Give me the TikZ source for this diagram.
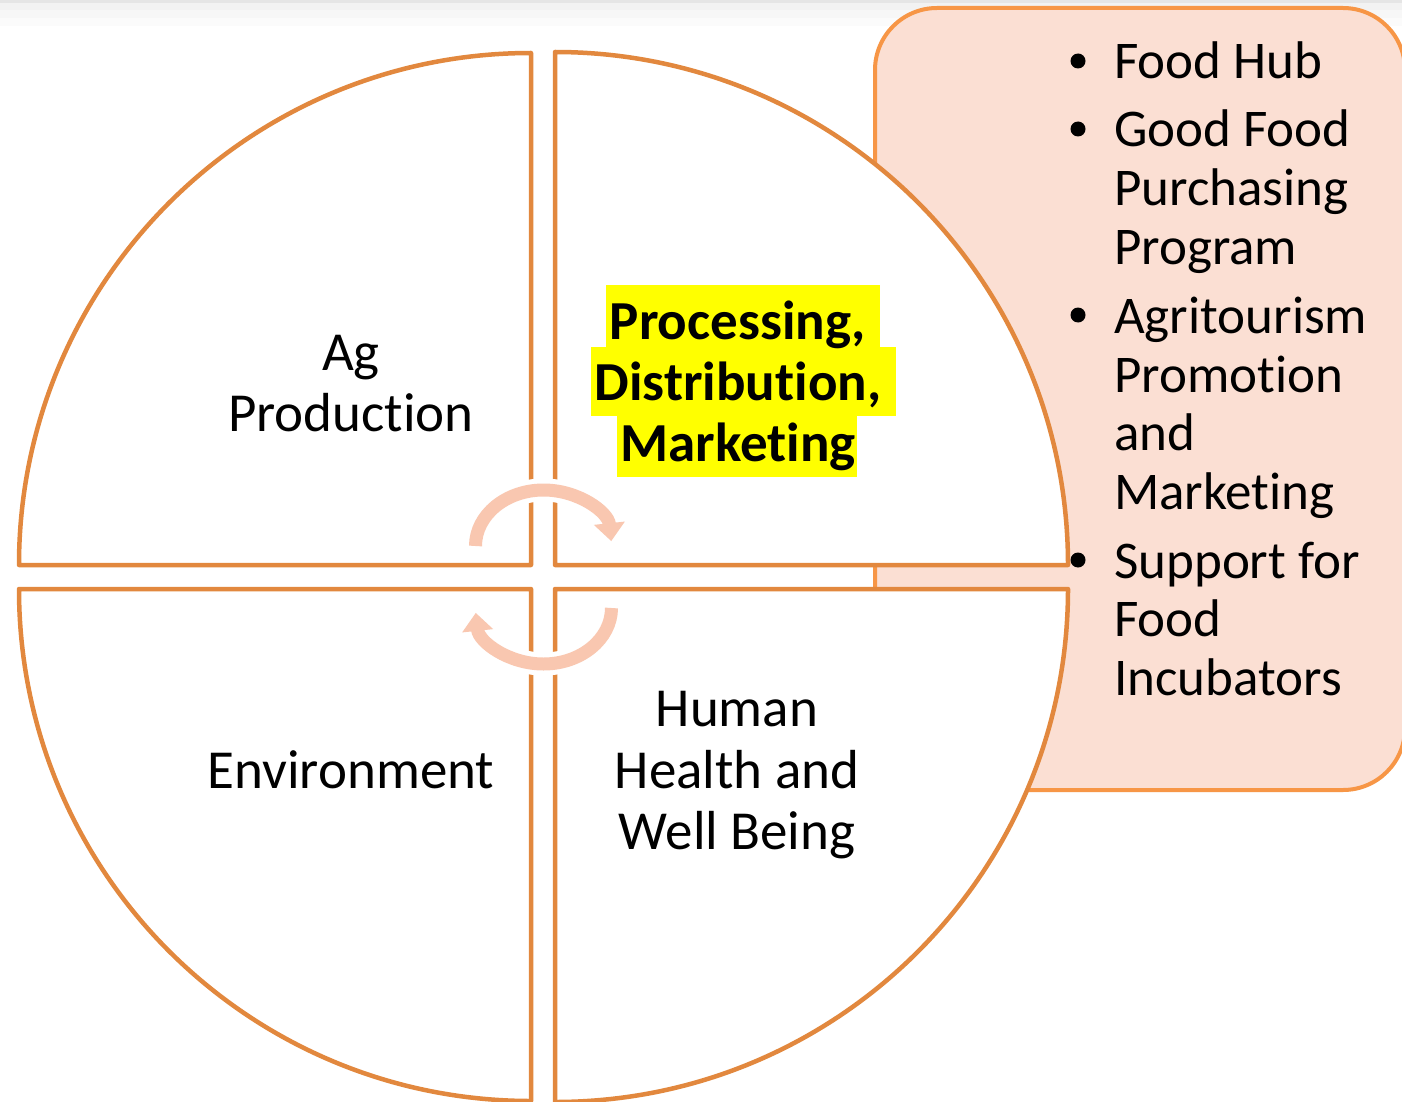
\documentclass[tikz,border=0pt]{standalone}
\usepackage{fontspec}
\setmainfont{Carlito}[Ligatures={NoCommon,NoContextual},Contextuals=NoAlternate]
\usetikzlibrary{arrows.meta}
\newcommand{\nolig}{\kern0pt }
\definecolor{quad}{RGB}{226,136,62}
\definecolor{boxline}{RGB}{247,150,70}
\definecolor{boxfill}{RGB}{251,223,211}
\definecolor{arrowc}{RGB}{249,199,176}
\definecolor{hl}{RGB}{255,255,0}
\tikzset{
  quadrant/.style={draw=quad, fill=white, line width=4.5pt, line join=round},
  circtxt/.style={font=\fontsize{55}{60}\selectfont, inner sep=0pt, anchor=base},
  boldtxt/.style={font=\bfseries\fontsize{55}{60}\selectfont, inner sep=0pt, anchor=base},
  listtxt/.style={font=\fontsize{53}{58}\selectfont, inner sep=0pt, anchor=base west},
  cyclearrow/.style={draw=arrowc, line width=13pt, -{Triangle[length=18pt,width=30pt]}},
  arrowhalo/.style={draw=white, line width=23pt},
  bulletdot/.style={fill=black}
}
\begin{document}
\begin{tikzpicture}[x=1pt,y=-1pt]
\useasboundingbox (0,0) rectangle (1402,1102);
\clip (0,0) rectangle (1402,1102);
\fill[white] (0,0) rectangle (1402,1102);
% top grey band
\fill[black!10] (0,0) rectangle (1402,3);
\fill[black!5] (0,3) rectangle (1402,10);
\fill[black!3] (0,10) rectangle (1402,18);
\fill[black!1.5] (0,18) rectangle (1402,26);
% rounded callout box
\draw[draw=boxline, fill=boxfill, line width=4pt, rounded corners=62pt] (875,8) rectangle (1405,790);
% quadrants
\draw[quadrant] (531,565) -- (19,565) arc[start angle=180, end angle=270, radius=512] -- cycle;
\draw[quadrant] (555,565) -- (555,52) arc[start angle=270, end angle=360, radius=513] -- cycle;
\draw[quadrant] (531,589) -- (531,1101) arc[start angle=90, end angle=180, radius=512] -- cycle;
\draw[quadrant] (555,589) -- (1068,589) arc[start angle=0, end angle=90, radius=513] -- cycle;
% cycle arrows
\draw[arrowhalo] (543.5,546) ++(225:68 and 56) arc[start angle=225, end angle=315, x radius=68, y radius=56];
\draw[cyclearrow] (543.5,546) ++(180:68 and 56) arc[start angle=180, end angle=355, x radius=68, y radius=56];
\draw[arrowhalo] (543.5,608) ++(45:68 and 56) arc[start angle=45, end angle=135, x radius=68, y radius=56];
\draw[cyclearrow] (543.5,608) ++(0:68 and 56) arc[start angle=0, end angle=175, x radius=68, y radius=56];
% highlight boxes
\fill[hl] (606,285) rectangle (880,347);
\fill[hl] (591,347) rectangle (896,416);
\fill[hl] (617,416) rectangle (857,477);
% quadrant texts
\node[circtxt] (ag1) at (351,370) {Ag};
\node[circtxt] (ag2) at (351,431) {Product\nolig ion};
\node[circtxt] (env) at (351,788) {Environment};
\node[circtxt] (hh1) at (737,726) {Human};
\node[circtxt] (hh2) at (737,788) {Health and};
\node[circtxt] (hh3) at (737,849) {Well Being};
\node[boldtxt] (pd1) at (738,339) {Processing,};
\node[boldtxt] (pd2) at (738,400) {Distribut\nolig ion,};
\node[boldtxt] (pd3) at (738,461) {Market\nolig ing};
% list
\fill[bulletdot] (1078,61) circle[radius=7.5];
\fill[bulletdot] (1078,129) circle[radius=7.5];
\fill[bulletdot] (1078,315) circle[radius=7.5];
\fill[bulletdot] (1078,560) circle[radius=7.5];
\node[listtxt] (l1) at (1114,79) {Food Hub};
\node[listtxt] (l2) at (1114,147) {Good Food};
\node[listtxt] (l3) at (1114,205) {Purchasing};
\node[listtxt] (l4) at (1114,264) {Program};
\node[listtxt] (l5) at (1114,333) {Agritourism};
\node[listtxt] (l6) at (1114,392) {Promot\nolig ion};
\node[listtxt] (l7) at (1114,450) {and};
\node[listtxt] (l8) at (1114,509) {Market\nolig ing};
\node[listtxt] (l9) at (1114,578) {Support for};
\node[listtxt] (l10) at (1114,636) {Food};
\node[listtxt] (l11) at (1114,695) {Incubators};
\end{tikzpicture}
\end{document}
